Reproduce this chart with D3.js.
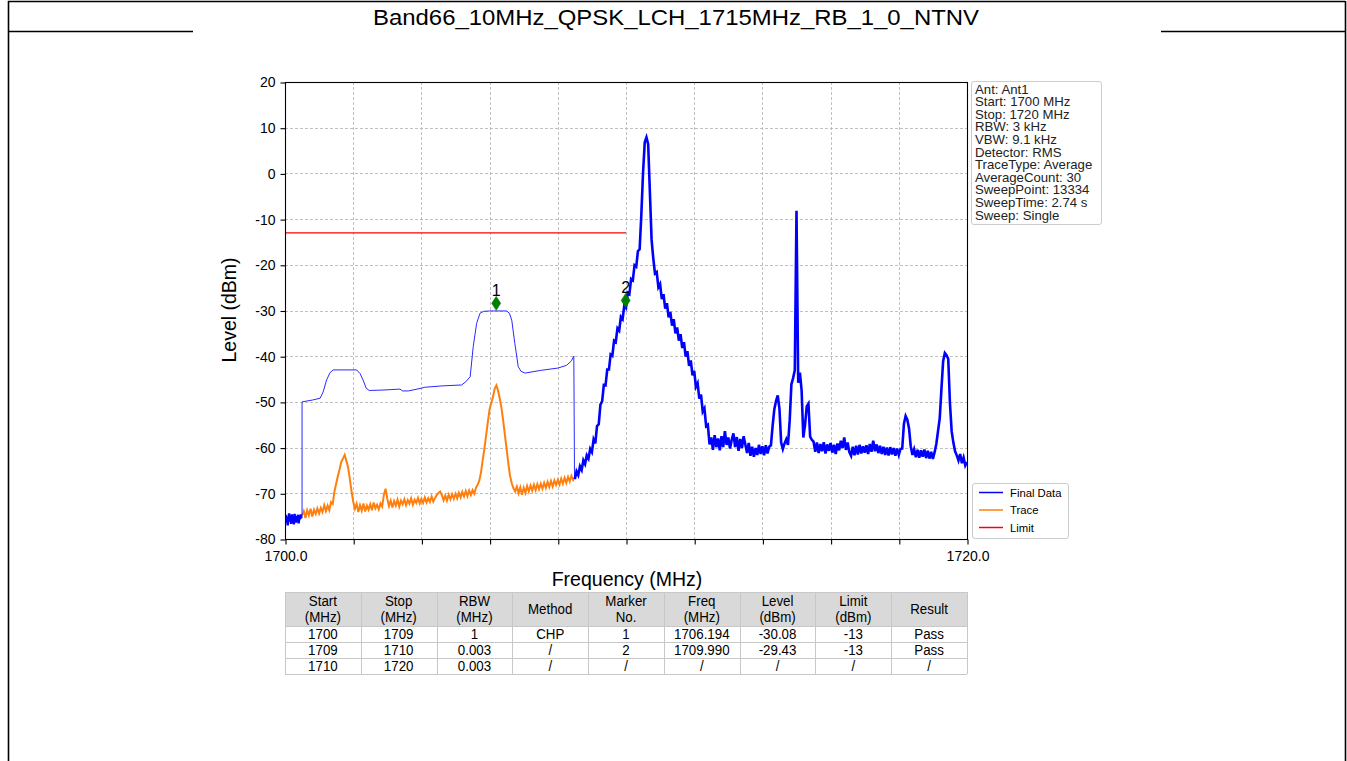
<!DOCTYPE html>
<html>
<head>
<meta charset="utf-8">
<script src="https://cdn.jsdelivr.net/npm/d3@7"></script>
<style>
  html, body { margin: 0; padding: 0; background: #fff; }
  svg { display: block; font-family: "Liberation Sans", Arial, sans-serif; }
</style>
</head>
<body>
<svg id="chart" width="1347" height="761"></svg>
<script>
// ---------------- DATA ----------------
const chartTitle = "Band66_10MHz_QPSK_LCH_1715MHz_RB_1_0_NTNV";
const xDomain = [1700, 1720];
const yDomain = [-80, 20];
const xTicks = [1700, 1702, 1704, 1706, 1708, 1710, 1712, 1714, 1716, 1718, 1720];
const xTickLabels = ["1700.0", "", "", "", "", "", "", "", "", "", "1720.0"];
const yTicks = [-80, -70, -60, -50, -40, -30, -20, -10, 0, 10, 20];

// Final Data, 1700.00 - 1700.48 MHz (noisy floor), uniform sweep step
const finalLowStart = 1700.0, finalLowStep = 0.02;
const finalLowLevels = [-75.8,-74.7,-76.5,-75.1,-77.0,-75.4,-74.4,-76.2,-75.2,-76.7,
  -74.6,-75.9,-75.3,-76.8,-74.5,-75.6,-76.4,-75.0,-75.8,-74.7,-76.6,-75.3,-75.7,-74.6,-75.5];

// Final Data, channel-power envelope 1700.5 - 1708.5 MHz  [freq, level]
const finalChp = [[1700.50,-75.2],[1700.50,-50.0],[1700.80,-49.6],[1701.03,-49.2],[1701.12,-47.8],
  [1701.22,-45.2],[1701.32,-43.6],[1701.41,-43.0],[1702.10,-43.0],[1702.20,-43.8],[1702.29,-45.2],
  [1702.38,-47.0],[1702.47,-47.5],[1702.90,-47.4],[1703.37,-47.2],[1703.45,-47.6],[1703.62,-47.6],
  [1704.00,-47.0],[1704.10,-46.8],[1704.60,-46.5],[1705.18,-46.3],[1705.30,-45.6],[1705.43,-44.5],
  [1705.52,-37.9],[1705.62,-32.8],[1705.72,-30.6],[1705.82,-30.2],[1706.00,-30.1],[1706.50,-30.1],
  [1706.58,-30.6],[1706.65,-32.1],[1706.74,-37.2],[1706.84,-42.3],[1706.92,-43.3],[1707.04,-43.7],
  [1707.50,-43.1],[1708.00,-42.6],[1708.26,-42.0],[1708.40,-41.0],[1708.47,-40.0],[1708.49,-66.4]];

// Final Data, 1708.5 - 1720.0 MHz, uniform sweep step
const finalHighStart = 1708.5, finalHighStep = 0.05;
const finalHighLevels = [
  -66.9,-65.2,-66.0,-64.1,-64.9,-62.8,-63.6,-61.7,-62.4,-60.3,
  -61.0,-58.2,-59.1,-55.3,-54.9,-50.6,-49.9,-46.3,-46.4,-42.9,
  -42.9,-39.6,-39.9,-36.6,-36.9,-33.9,-34.4,-31.4,-31.9,-28.9,
  -29.4,-26.1,-26.4,-23.1,-23.4,-20.1,-20.4,-17.0,-16.6,-9.0,
  0.2,6.8,7.9,6.4,-4.0,-14.5,-18.6,-21.9,-21.6,-24.9,
  -24.2,-27.5,-26.4,-29.6,-28.4,-31.5,-30.3,-33.3,-31.9,-35.0,
  -33.7,-36.6,-35.2,-38.2,-36.9,-40.1,-38.9,-42.1,-40.9,-44.2,
  -43.2,-46.7,-45.9,-49.3,-48.4,-52.1,-51.4,-55.3,-55.0,-59.3,
  -57.8,-60.5,-57.3,-59.9,-58.0,-60.6,-57.5,-59.9,-56.4,-59.4,
  -57.8,-60.2,-58.3,-56.9,-59.9,-57.7,-60.7,-58.1,-60.1,-57.5,
  -59.3,-61.2,-59.0,-61.8,-59.8,-62.0,-60.1,-61.6,-59.4,-61.4,
  -59.7,-61.7,-59.5,-61.3,-59.8,-59.5,-55.2,-51.6,-49.8,-48.6,
  -51.5,-58.9,-60.3,-59.1,-58.2,-59.4,-54.1,-46.2,-44.8,-43.1,
  -8.2,-45.8,-43.6,-47.5,-57.8,-55.1,-51.0,-50.4,-57.6,-58.3,
  -58.7,-60.9,-58.9,-61.2,-59.2,-60.8,-58.8,-61.3,-59.3,-60.7,
  -59.0,-61.1,-59.4,-61.4,-59.1,-60.6,-58.5,-60.1,-57.8,-60.5,
  -58.9,-61.0,-61.8,-59.8,-61.7,-59.6,-61.5,-59.4,-61.3,-59.7,
  -61.1,-59.5,-61.4,-59.2,-60.9,-58.5,-60.8,-59.3,-61.2,-59.6,
  -61.4,-59.8,-61.6,-60.0,-61.7,-59.9,-61.5,-60.1,-61.8,-60.2,
  -61.6,-60.3,-60.2,-54.8,-53.1,-53.9,-55.8,-59.7,-61.6,-60.4,
  -62.1,-60.5,-62.2,-60.6,-62.0,-60.4,-62.3,-60.7,-62.4,-60.9,
  -62.5,-61.0,-59.2,-56.4,-53.6,-47.2,-41.1,-39.3,-39.8,-40.6,
  -50.3,-56.4,-58.9,-60.8,-61.7,-62.8,-61.4,-63.4,-62.2,-63.9,
  -63.2];

// Trace (orange), 1700.5 - 1708.5 MHz, uniform sweep step
const traceStart = 1700.5, traceStep = 0.05;
const traceLevels = [
  -74.8,-73.9,-75.4,-73.7,-74.8,-73.4,-75.1,-73.6,-74.5,-73.3,
  -74.4,-73.2,-74.1,-72.6,-73.9,-72.7,-73.7,-71.9,-72.3,-69.6,
  -67.9,-66.2,-64.8,-63.1,-62.4,-61.6,-62.9,-64.3,-66.8,-69.5,
  -71.8,-73.4,-72.3,-74.1,-72.6,-73.8,-72.2,-74.0,-72.7,-73.6,
  -72.4,-73.7,-72.0,-73.3,-72.5,-73.5,-72.2,-72.9,-70.3,-69.0,
  -71.2,-72.8,-71.6,-73.1,-71.7,-72.7,-71.4,-72.9,-71.6,-72.4,
  -71.3,-72.6,-71.5,-72.3,-71.1,-72.5,-71.4,-72.1,-71.0,-72.2,
  -71.2,-72.1,-70.9,-72.0,-71.1,-71.9,-70.7,-71.8,-71.0,-70.4,
  -69.9,-69.6,-70.4,-71.5,-70.5,-71.6,-70.3,-71.3,-70.2,-71.2,
  -70.1,-71.1,-69.9,-70.9,-69.7,-70.7,-69.5,-70.6,-69.4,-70.4,
  -69.3,-70.1,-68.8,-68.1,-67.2,-65.3,-62.6,-60.1,-57.2,-54.3,
  -51.6,-50.2,-48.9,-47.1,-46.4,-47.6,-49.3,-51.4,-54.2,-57.3,
  -60.4,-63.5,-66.2,-67.8,-68.9,-69.6,-68.5,-70.0,-68.7,-70.3,
  -68.8,-69.9,-68.4,-69.6,-68.3,-69.4,-68.1,-69.3,-68.0,-69.1,
  -67.9,-69.0,-67.7,-68.8,-67.5,-68.6,-67.3,-68.5,-67.2,-68.2,
  -67.1,-68.1,-66.8,-67.9,-66.6,-67.7,-66.4,-67.4,-66.2,-67.1,
  -66.5];

// Limit line
const limitFreq = [1700, 1710];
const limitLevel = [-13, -13];

// Markers
const markerNames = ["1", "2"];
const markerFreq = [1706.194, 1709.990];
const markerLevel = [-30.08, -29.43];

// Info box
const infoLines = ["Ant: Ant1", "Start: 1700 MHz", "Stop: 1720 MHz", "RBW: 3 kHz", "VBW: 9.1 kHz",
  "Detector: RMS", "TraceType: Average", "AverageCount: 30", "SweepPoint: 13334",
  "SweepTime: 2.74 s", "Sweep: Single"];

// Legend
const legendNames = ["Final Data", "Trace", "Limit"];
const legendColors = ["#0000ff", "#ff7f0e", "#ff0000"];

// Table
const tableHeader = [["Start","(MHz)"],["Stop","(MHz)"],["RBW","(MHz)"],["Method"],["Marker","No."],
  ["Freq","(MHz)"],["Level","(dBm)"],["Limit","(dBm)"],["Result"]];
const tableRows = [
  ["1700","1709","1","CHP","1","1706.194","-30.08","-13","Pass"],
  ["1709","1710","0.003","/","2","1709.990","-29.43","-13","Pass"],
  ["1710","1720","0.003","/","/","/","/","/","/"]];

// ---------------- DRAW ----------------
const svg = d3.select("#chart");
const W = 1347, H = 761;
const plot = {left: 285, right: 967, top: 82, bottom: 539};

// Frame lines
const frame = svg.append("g").attr("stroke", "#000").attr("stroke-width", 1.6).attr("fill", "none");
frame.append("line").attr("x1", 8).attr("y1", 1.5).attr("x2", 1345.5).attr("y2", 1.5);
frame.append("line").attr("x1", 8.5).attr("y1", 1).attr("x2", 8.5).attr("y2", H);
frame.append("line").attr("x1", 1345.5).attr("y1", 1).attr("x2", 1345.5).attr("y2", H);
frame.append("line").attr("x1", 8).attr("y1", 31.5).attr("x2", 193).attr("y2", 31.5);
frame.append("line").attr("x1", 1161).attr("y1", 31.5).attr("x2", 1346).attr("y2", 31.5);

svg.append("text").attr("x", 676).attr("y", 25).attr("text-anchor", "middle")
  .attr("font-size", 22).attr("textLength", 606).attr("lengthAdjust", "spacingAndGlyphs")
  .attr("fill", "#000").text(chartTitle);

const x = d3.scaleLinear().domain(xDomain).range([plot.left, plot.right]);
const y = d3.scaleLinear().domain(yDomain).range([plot.bottom, plot.top]);

// Grid
const grid = svg.append("g").attr("stroke", "#b0b0b0").attr("stroke-width", 0.8)
  .attr("stroke-dasharray", "3,2");
grid.selectAll(".gx").data(xTicks.slice(1, -1)).join("line")
  .attr("x1", d => Math.round(x(d)) + 0.5).attr("x2", d => Math.round(x(d)) + 0.5)
  .attr("y1", plot.top).attr("y2", plot.bottom);
grid.selectAll(".gy").data(yTicks.slice(1, -1)).join("line")
  .attr("y1", d => Math.round(y(d)) + 0.5).attr("y2", d => Math.round(y(d)) + 0.5)
  .attr("x1", plot.left).attr("x2", plot.right);

// Clip
svg.append("clipPath").attr("id", "clip").append("rect")
  .attr("x", plot.left).attr("y", plot.top)
  .attr("width", plot.right - plot.left).attr("height", plot.bottom - plot.top);
const g = svg.append("g").attr("clip-path", "url(#clip)");

const line = d3.line().x(d => x(d[0])).y(d => y(d[1]));
const uni = (start, step, arr) => arr.map((v, i) => [start + i * step, v]);

// Trace (orange)
g.append("path").datum(uni(traceStart, traceStep, traceLevels))
  .attr("d", line).attr("fill", "none").attr("stroke", "#ff7f0e").attr("stroke-width", 2.0)
  .attr("stroke-linejoin", "miter");

// Final Data
g.append("path").datum(uni(finalLowStart, finalLowStep, finalLowLevels))
  .attr("d", line).attr("fill", "none").attr("stroke", "#0000ff").attr("stroke-width", 2.4);
g.append("path").datum(finalChp)
  .attr("d", line).attr("fill", "none").attr("stroke", "#2a2aff").attr("stroke-width", 1.0);
g.append("path").datum(uni(finalHighStart, finalHighStep, finalHighLevels))
  .attr("d", line).attr("fill", "none").attr("stroke", "#0000ff").attr("stroke-width", 2.6)
  .attr("stroke-linejoin", "miter");

// Limit
g.append("path").datum(limitFreq.map((f, i) => [f, limitLevel[i]]))
  .attr("d", line).attr("fill", "none").attr("stroke", "#ff0000").attr("stroke-width", 1.2);

// Axes frame
svg.append("rect").attr("x", plot.left + 0.5).attr("y", plot.top + 0.5)
  .attr("width", plot.right - plot.left).attr("height", plot.bottom - plot.top)
  .attr("fill", "none").attr("stroke", "#000").attr("stroke-width", 1.1);

// Axes
const xAxis = d3.axisBottom(x).tickValues(xTicks).tickSize(5).tickPadding(7)
  .tickFormat((d, i) => xTickLabels[i]);
const gx = svg.append("g").attr("transform", `translate(0.5,${plot.bottom + 0.5})`).call(xAxis);
const yAxis = d3.axisLeft(y).tickValues(yTicks).tickSize(5).tickPadding(5)
  .tickFormat(d => String(d));
const gy = svg.append("g").attr("transform", `translate(${plot.left + 0.5},0.5)`).call(yAxis);
[gx, gy].forEach(a => {
  a.select(".domain").remove();
  a.selectAll(".tick line").attr("stroke", "#000").attr("stroke-width", 1.1);
  a.selectAll(".tick text").attr("font-size", 14).attr("fill", "#000")
    .attr("font-family", "Liberation Sans, Arial, sans-serif");
});

svg.append("text").attr("x", 627).attr("y", 586).attr("text-anchor", "middle")
  .attr("font-size", 19.5).attr("fill", "#000").text("Frequency (MHz)");
svg.append("text").attr("transform", "translate(236,310) rotate(-90)")
  .attr("text-anchor", "middle").attr("font-size", 19.5).attr("fill", "#000").text("Level (dBm)");

// Markers
const markerOffset = -7.5;
const mk = svg.append("g");
markerFreq.forEach((f, i) => {
  const mx = x(f), my = y(markerLevel[i]) + markerOffset;
  mk.append("path").attr("d", `M${mx},${my - 7} L${mx + 4.5},${my} L${mx},${my + 7} L${mx - 4.5},${my} Z`)
    .attr("fill", "#008000").attr("stroke", "#006400").attr("stroke-width", 0.5);
  mk.append("text").attr("x", mx).attr("y", my - 7.5).attr("text-anchor", "middle")
    .attr("font-size", 16).attr("fill", "#000").text(markerNames[i]);
});

// Info box
const info = svg.append("g");
info.append("rect").attr("x", 971.5).attr("y", 81.5).attr("width", 130).attr("height", 143)
  .attr("rx", 2.5).attr("fill", "#fff").attr("stroke", "#cccccc").attr("stroke-width", 1);
info.selectAll("text").data(infoLines).join("text")
  .attr("x", 975).attr("y", (d, i) => 93.5 + i * 12.6)
  .attr("font-size", 13.2).attr("fill", "#222").text(d => d);

// Legend
const leg = svg.append("g");
leg.append("rect").attr("x", 972.5).attr("y", 483.5).attr("width", 96).attr("height", 55)
  .attr("rx", 2.5).attr("fill", "#fff").attr("stroke", "#cccccc").attr("stroke-width", 1);
legendNames.forEach((n, i) => {
  const ly = 492.5 + i * 17.5;
  leg.append("line").attr("x1", 979).attr("x2", 1003).attr("y1", ly).attr("y2", ly)
    .attr("stroke", legendColors[i]).attr("stroke-width", 1.5);
  leg.append("text").attr("x", 1010).attr("y", ly + 4).attr("font-size", 11.3)
    .attr("fill", "#000").text(n);
});

// Table
const tb = svg.append("g");
const tX0 = 285, tX1 = 967, nCol = tableHeader.length;
const colX = d3.scaleLinear().domain([0, nCol]).range([tX0, tX1]);
const hY0 = 592, hY1 = 626, rowH = 16;
tb.append("rect").attr("x", tX0).attr("y", hY0).attr("width", tX1 - tX0).attr("height", hY1 - hY0)
  .attr("fill", "#d9d9d9");
const tEnd = hY1 + rowH * tableRows.length;
const tl = tb.append("g").attr("stroke", "#c8c8c8").attr("stroke-width", 1);
for (let c = 0; c <= nCol; c++) {
  tl.append("line").attr("x1", Math.round(colX(c)) + 0.5).attr("x2", Math.round(colX(c)) + 0.5)
    .attr("y1", hY0).attr("y2", tEnd);
}
[hY0, hY1].concat(tableRows.map((r, i) => hY1 + rowH * (i + 1))).forEach(yy => {
  tl.append("line").attr("x1", tX0).attr("x2", tX1).attr("y1", yy + 0.5).attr("y2", yy + 0.5);
});
const cellText = (cx, cy, s) => tb.append("text")
  .attr("transform", `translate(${cx},${cy}) scale(0.86,1)`).attr("text-anchor", "middle")
  .attr("font-size", 15.5).attr("fill", "#000").text(s);
tableHeader.forEach((h, c) => {
  const cx = (colX(c) + colX(c + 1)) / 2;
  if (h.length === 2) { cellText(cx, 606, h[0]); cellText(cx, 621.5, h[1]); }
  else cellText(cx, 614, h[0]);
});
tableRows.forEach((r, ri) => {
  r.forEach((s, c) => {
    const cx = (colX(c) + colX(c + 1)) / 2;
    cellText(cx, hY1 + rowH * ri + 13, s);
  });
});
</script>
</body>
</html>
